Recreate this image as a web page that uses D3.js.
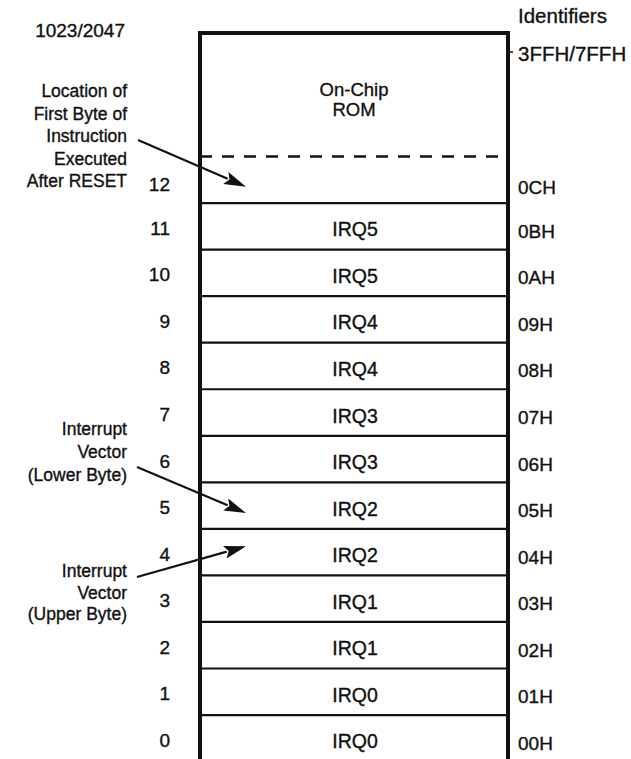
<!DOCTYPE html>
<html>
<head>
<meta charset="utf-8">
<script src="https://cdn.jsdelivr.net/npm/d3@7"></script>
<style>
  html, body { margin: 0; padding: 0; background: #fff; }
  svg { display: block; }
  text { font-family: "Liberation Sans", Arial, Helvetica, sans-serif; fill: #111; stroke: #111; stroke-width: 0.35px; }
</style>
</head>
<body>
<svg id="chart" width="631" height="759"></svg>
<script>
// ---- data ----
const addresses = [0, 1, 2, 3, 4, 5, 6, 7, 8, 9, 10, 11, 12];
const contents = ["IRQ0", "IRQ0", "IRQ1", "IRQ1", "IRQ2", "IRQ2", "IRQ3", "IRQ3", "IRQ4", "IRQ4", "IRQ5", "IRQ5", ""];
const identifiers = ["00H", "01H", "02H", "03H", "04H", "05H", "06H", "07H", "08H", "09H", "0AH", "0BH", "0CH"];
const topAddressLabel = "1023/2047";
const topIdentifierLabel = "3FFH/7FFH";
const identifierHeader = "Identifiers";
const romLabel = ["On-Chip", "ROM"];
const annotationTexts = [
  ["Location of", "First Byte of", "Instruction", "Executed", "After RESET"],
  ["Interrupt", "Vector", "(Lower Byte)"],
  ["Interrupt", "Vector", "(Upper Byte)"]
];
const annotationTargets = [12, 5, 4];

// ---- layout ----
const svg = d3.select("#chart");
const boxLeft = 200, boxRight = 508, boxTop = 33;
const y = d3.scaleLinear().domain([0, 13]).range([761.6, 156.5]);
const x = d3.scaleLinear().domain([0, 1]).range([boxLeft, boxRight]);
const rowMid = a => (y(a) + y(a + 1)) / 2;

// row separator lines (tops of rows 0..11)
svg.append("g").selectAll("line")
  .data(addresses.filter(a => a < 12))
  .join("line")
  .attr("x1", x(0)).attr("x2", x(1))
  .attr("y1", a => y(a + 1)).attr("y2", a => y(a + 1))
  .attr("stroke", "#111").attr("stroke-width", 2.2);

// dashed boundary between ROM and address 12
svg.append("line")
  .attr("x1", x(0)).attr("x2", x(0.97))
  .attr("y1", y(13)).attr("y2", y(13))
  .attr("stroke", "#111").attr("stroke-width", 2.5)
  .attr("stroke-dasharray", "12,10");

// outer box
svg.append("path")
  .attr("d", `M${x(0)},${760}V${boxTop}H${x(1)}V${760}`)
  .attr("fill", "none").attr("stroke", "#111").attr("stroke-width", 4)
  .attr("stroke-linejoin", "miter");

// small leader tick for top identifier
svg.append("line")
  .attr("x1", x(1)).attr("x2", x(1) + 5).attr("y1", 52).attr("y2", 52)
  .attr("stroke", "#111").attr("stroke-width", 1.5);

// contents
svg.append("g").selectAll("text")
  .data(addresses)
  .join("text")
  .attr("x", (x(0) + x(1)) / 2 + 1)
  .attr("y", a => rowMid(a) + 3)
  .attr("text-anchor", "middle").attr("dominant-baseline", "central")
  .attr("font-size", 19.5)
  .text(a => contents[a]);

// address numbers (left)
svg.append("g").selectAll("text")
  .data(addresses)
  .join("text")
  .attr("x", 170)
  .attr("y", a => rowMid(a) + (a === 12 ? 5 : 2))
  .attr("text-anchor", "end").attr("dominant-baseline", "central")
  .attr("font-size", 19)
  .text(a => String(a));

// identifiers (right)
svg.append("g").selectAll("text")
  .data(addresses)
  .join("text")
  .attr("x", 518)
  .attr("y", a => rowMid(a) + (a === 12 ? 8 : 5))
  .attr("dominant-baseline", "central")
  .attr("font-size", 19)
  .text(a => identifiers[a]);

// top labels
svg.append("text").attr("x", 125).attr("y", 30)
  .attr("text-anchor", "end").attr("dominant-baseline", "central")
  .attr("font-size", 19).text(topAddressLabel);
svg.append("text").attr("x", 518).attr("y", 15)
  .attr("dominant-baseline", "central").attr("font-size", 20.5).text(identifierHeader);
svg.append("text").attr("x", 518).attr("y", 53)
  .attr("dominant-baseline", "central").attr("font-size", 20.5).text(topIdentifierLabel);

// ROM label
svg.append("g").selectAll("text")
  .data(romLabel)
  .join("text")
  .attr("x", (x(0) + x(1)) / 2)
  .attr("y", (d, i) => 89 + i * 20)
  .attr("text-anchor", "middle").attr("dominant-baseline", "central")
  .attr("font-size", 18.5)
  .text(d => d);

// annotations
const annotLayout = [
  { firstLine: 91, lineH: 22.5, tail: [138, 140], tipDy: 7 },
  { firstLine: 429, lineH: 23, tail: [137, 467], tipDy: 7.5 },
  { firstLine: 571, lineH: 21.5, tail: [137, 577], tipDy: -6 }
];
annotationTexts.forEach((lines, i) => {
  const L = annotLayout[i];
  svg.append("g").selectAll("text")
    .data(lines)
    .join("text")
    .attr("x", 127)
    .attr("y", (d, j) => L.firstLine + j * L.lineH)
    .attr("text-anchor", "end").attr("dominant-baseline", "central")
    .attr("font-size", 17.5)
    .text(d => d);

  const tip = [246, rowMid(annotationTargets[i]) + L.tipDy];
  const tail = L.tail;
  const dx = tip[0] - tail[0], dy = tip[1] - tail[1];
  const len = Math.hypot(dx, dy);
  const ux = dx / len, uy = dy / len;
  const headL = 22, headW = 6.5;
  const bx = tip[0] - ux * headL, by = tip[1] - uy * headL;
  svg.append("line")
    .attr("x1", tail[0]).attr("y1", tail[1])
    .attr("x2", bx + ux * 2).attr("y2", by + uy * 2)
    .attr("stroke", "#111").attr("stroke-width", 2.2);
  svg.append("path")
    .attr("d", d3.line()([
      tip,
      [bx - uy * headW, by + ux * headW],
      [bx + ux * 4, by + uy * 4],
      [bx + uy * headW, by - ux * headW]
    ]) + "Z")
    .attr("fill", "#111");
});
</script>
</body>
</html>
